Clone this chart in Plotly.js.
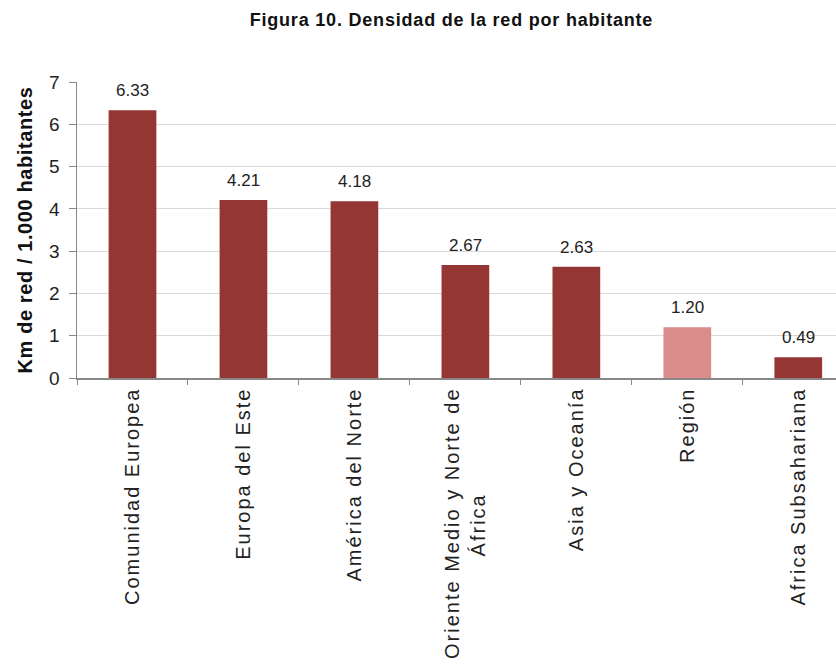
<!DOCTYPE html>
<html><head><meta charset="utf-8">
<script src="https://cdn.plot.ly/plotly-3.0.1.min.js"></script>
<style>
body{margin:0;background:#fff}
#c{width:836px;height:664px}
#c g.xtick text{letter-spacing:2px}
#c .gtitle{letter-spacing:0.8px}
#c .ytitle{letter-spacing:0.6px}
</style>
</head><body><div id="c"></div>
<script>
const categories = ["Comunidad Europea","Europa del Este","América del Norte","Oriente Medio y Norte de<br>África","Asia y Oceanía","Región","Africa Subsahariana"];
const values = [6.33, 4.21, 4.18, 2.67, 2.63, 1.20, 0.49];
const labels = ["6.33","4.21","4.18","2.67","2.63","1.20","0.49"];
const colors = values.map((v,i)=> categories[i]==="Región" ? "#d98c8a" : "#943634");
// second line of wrapped label is centred under the first line (pad to the end side)
const tickText = categories.map(c => c.includes("<br>") ? c + "\u00a0".repeat(14) : c);
const annotations = categories.map((c,i)=>({
  x:c, y:values[i], xref:"x", yref:"y", text:labels[i], showarrow:false,
  yanchor:"bottom", yshift:8, font:{family:"Liberation Sans, Arial", size:17, color:"#222"}
}));
Plotly.newPlot("c", [{
  type:"bar", x:categories, y:values,
  marker:{color:colors}, width:0.43, hoverinfo:"none"
}], {
  width:836, height:664, margin:{l:77,r:0,t:82,b:286},
  paper_bgcolor:"#fff", plot_bgcolor:"#fff",
  font:{family:"Liberation Sans, Arial", color:"#222"},
  annotations: annotations,
  title:{text:"<b>Figura 10. Densidad de la red por habitante</b>", x:0.54, xanchor:"center", y:0.97, yanchor:"middle", font:{size:18, color:"#111"}},
  xaxis:{type:"category", range:[-0.5,6.34], tickmode:"array", tickvals:categories, ticktext:tickText,
    tickangle:-90, tickson:"boundaries", ticks:"outside", ticklen:5, tickcolor:"#888",
    showline:true, linecolor:"#888", linewidth:1.5, showgrid:false,
    tickfont:{size:20, color:"#222"}, automargin:false},
  yaxis:{range:[0,7], dtick:1, ticks:"outside", ticklen:7, tickcolor:"#888", showline:true, linecolor:"#888", linewidth:1.5,
    gridcolor:"#d9d9d9", gridwidth:1, zeroline:false, tickfont:{size:19, color:"#222"}, ticklabelstandoff:5,
    title:{text:"<b>Km de red / 1.000 habitantes</b>", font:{size:20, color:"#111"}, standoff:11}, automargin:false}
}, {staticPlot:true});
</script></body></html>
